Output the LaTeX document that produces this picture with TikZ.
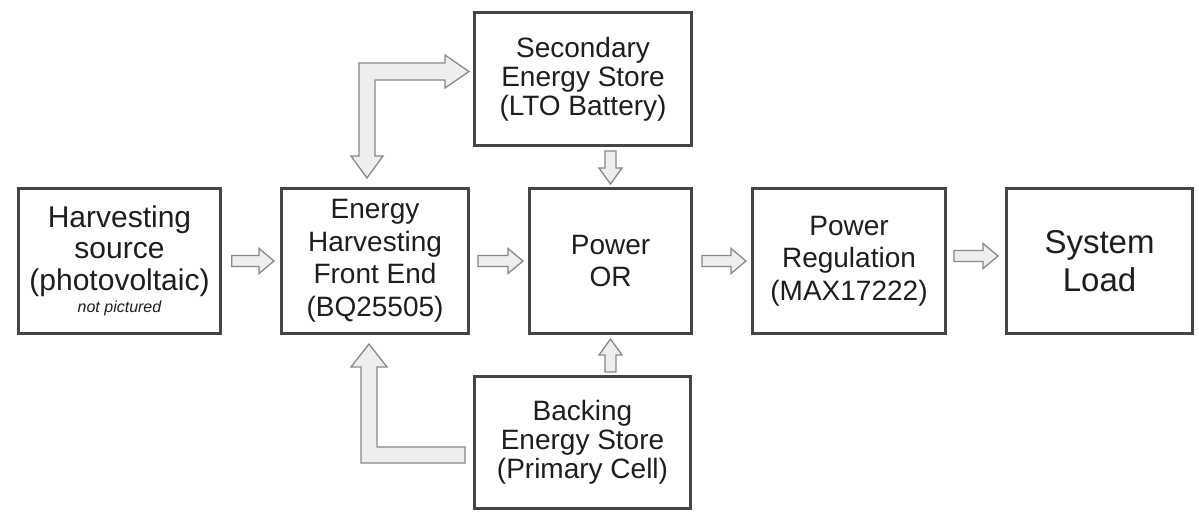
\documentclass[tikz,border=0pt]{standalone}
\usepackage{fontspec}
\setmainfont{Liberation Sans}
\usetikzlibrary{calc}
\definecolor{boxline}{HTML}{454545}
\definecolor{arrline}{HTML}{888888}
\definecolor{arrfill}{HTML}{EEEEEE}
\definecolor{txt}{HTML}{1E1E1E}
\tikzset{
  blk/.style={draw=boxline, line width=2.6pt, fill=white, inner sep=0pt,
    align=center, text=txt, font=\fontsize{28}{32.5}\selectfont},
  blockarrow/.style={draw=arrline, fill=arrfill, line width=1.3pt, line join=miter},
}
% horizontal block arrow, left to right: start #1, tip #2
\newcommand{\harr}[2]{%
  \path[blockarrow] let \p1=(#1), \p2=(#2) in
    (\x1,\y1+5.5pt) -- (\x2-15pt,\y1+5.5pt) -- (\x2-15pt,\y1+12.5pt) -- (\x2,\y1)
    -- (\x2-15pt,\y1-12.5pt) -- (\x2-15pt,\y1-5.5pt) -- (\x1,\y1-5.5pt) -- cycle;}
% vertical block arrow pointing down: start #1, tip #2
\newcommand{\darr}[2]{%
  \path[blockarrow] let \p1=(#1), \p2=(#2) in
    (\x1-5.5pt,\y1) -- (\x1-5.5pt,\y2+16pt) -- (\x1-11.5pt,\y2+16pt) -- (\x1,\y2)
    -- (\x1+11.5pt,\y2+16pt) -- (\x1+5.5pt,\y2+16pt) -- (\x1+5.5pt,\y1) -- cycle;}
% vertical block arrow pointing up: start #1, tip #2
\newcommand{\uarr}[2]{%
  \path[blockarrow] let \p1=(#1), \p2=(#2) in
    (\x1-5.5pt,\y1) -- (\x1-5.5pt,\y2-16pt) -- (\x1-11.5pt,\y2-16pt) -- (\x1,\y2)
    -- (\x1+11.5pt,\y2-16pt) -- (\x1+5.5pt,\y2-16pt) -- (\x1+5.5pt,\y1) -- cycle;}
\begin{document}
\begin{tikzpicture}[x=1pt,y=-1pt]
\fill[white] (0,0) rectangle (1199,512);
\useasboundingbox (0,0) rectangle (1199,512);

% boxes
\node[blk, minimum width=202pt, minimum height=145pt,
  font=\fontsize{30}{31.5}\selectfont] (src) at (119.5,261)
  {Harvesting\\source\\(photovoltaic)\\[-9pt]{\fontsize{16}{18}\selectfont\itshape not pictured}};
\node[blk, minimum width=187.4pt, minimum height=145.4pt] (eh) at (375,261)
  {Energy\\Harvesting\\Front End\\(BQ25505)};
\node[blk, minimum width=162.4pt, minimum height=145.4pt] (or) at (610.5,261)
  {Power\\OR};
\node[blk, minimum width=193.4pt, minimum height=145.4pt] (reg) at (849,261)
  {Power\\Regulation\\(MAX17222)};
\node[blk, minimum width=186.4pt, minimum height=145.4pt,
  font=\fontsize{33}{38}\selectfont] (load) at (1099.5,261)
  {System\\Load};
\node[blk, minimum width=217.4pt, minimum height=133.4pt,
  font=\fontsize{28}{29}\selectfont] (sec) at (583,79)
  {Secondary\\Energy Store\\(LTO Battery)};
\node[blk, minimum width=216.4pt, minimum height=132.4pt,
  font=\fontsize{28}{29}\selectfont] (back) at (582.5,442.5)
  {Backing\\Energy Store\\(Primary Cell)};

% arrow end points
\coordinate (a1s) at ($(src.east)+(10,0)$);
\coordinate (a1e) at ($(eh.west)+(-6,0)$);
\coordinate (a2s) at ($(eh.east)+(8,0)$);
\coordinate (a2e) at ($(or.west)+(-5,0)$);
\coordinate (a3s) at ($(or.east)+(9,0)$);
\coordinate (a3e) at ($(reg.west)+(-5,0)$);
\coordinate (a4s) at ($(reg.east)+(7,-5)$);
\coordinate (a4e) at ($(load.west)+(-7,-5)$);
\coordinate (d1s) at ($(sec.south -| or.north)+(0,4)$);
\coordinate (d1e) at ($(or.north)+(0,-3)$);
\coordinate (u1s) at ($(back.north -| or.south)+(0,-3)$);
\coordinate (u1e) at ($(or.south)+(0,4)$);

\harr{a1s}{a1e}
\harr{a2s}{a2e}
\harr{a3s}{a3e}
\harr{a4s}{a4e}
\darr{d1s}{d1e}
\uarr{u1s}{u1e}

% L-shaped double arrow: Energy Harvesting <-> Secondary store
\coordinate (Ltip1) at ($(eh.north)+(-8,-9)$);
\coordinate (Ltip2) at ($(sec.west)+(-4,-7.5)$);
\path[blockarrow] let \p1=(Ltip1), \p2=(Ltip2) in
  (\x1-16pt,\y1+22pt) -- (\x1,\y1) -- (\x1+16pt,\y1+22pt) -- (\x1+8pt,\y1+22pt)
  -- (\x1+8pt,\y2-8.5pt) -- (\x2-24pt,\y2-8.5pt) -- (\x2-24pt,\y2-16.5pt) -- (\x2,\y2)
  -- (\x2-24pt,\y2+16.5pt) -- (\x2-24pt,\y2+8.5pt) -- (\x1-8pt,\y2+8.5pt)
  -- (\x1-8pt,\y1+22pt) -- cycle;

% L-shaped arrow: Backing store -> Energy Harvesting
\coordinate (Btip) at ($(eh.south)+(-6,9)$);
\coordinate (Bend) at ($(back.west)+(-8,12.5)$);
\path[blockarrow] let \p1=(Btip), \p2=(Bend) in
  (\x1,\y1) -- (\x1+18pt,\y1-23pt) -- (\x1+8pt,\y1-23pt) -- (\x1+8pt,\y2+8pt)
  -- (\x2,\y2+8pt) -- (\x2,\y2-8pt) -- (\x1-8pt,\y2-8pt) -- (\x1-8pt,\y1-23pt)
  -- (\x1-18pt,\y1-23pt) -- cycle;
\end{tikzpicture}
\end{document}
